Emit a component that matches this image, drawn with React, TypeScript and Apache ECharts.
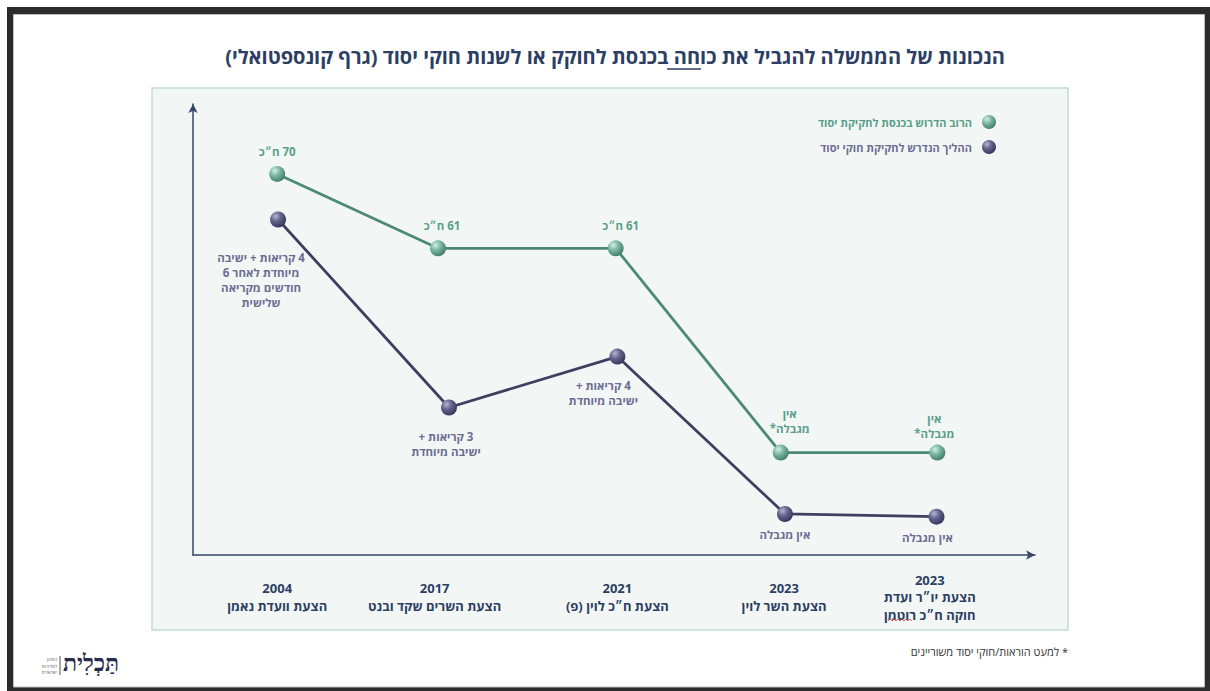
import React, { useEffect, useRef } from 'react';
import * as echarts from 'echarts';

// ---------- data ----------
const chartTitle = 'הנכונות של הממשלה להגביל את כוחה בכנסת לחוקק או לשנות חוקי יסוד (גרף קונספטואלי)';
const seriesNames = ['הרוב הדרוש בכנסת לחקיקת יסוד', 'ההליך הנדרש לחקיקת חוקי יסוד'];

// conceptual positions (0-100 scale on both axes)
const majorityX = [10.0, 29.1, 50.2, 69.8, 88.4];
const majorityY = [84.5, 68.0, 68.0, 22.7, 22.7];
const majorityLabels = ['70 ח״כ', '61 ח״כ', '61 ח״כ', 'אין\nמגבלה*', 'אין\nמגבלה*'];

const procedureX = [10.1, 30.4, 50.4, 70.3, 88.3];
const procedureY = [74.4, 32.7, 44.0, 9.1, 8.5];
const procedureLabels = [
  '4 קריאות + ישיבה\nמיוחדת לאחר 6\nחודשים מקריאה\nשלישית',
  '3 קריאות +\nישיבה מיוחדת',
  '4 קריאות +\nישיבה מיוחדת',
  'אין מגבלה',
  'אין מגבלה',
];

const proposalX = [10.0, 28.7, 50.4, 70.2, 87.5];
const proposalYears = ['2004', '2017', '2021', '2023', '2023'];
const proposalNames = [
  'הצעת וועדת נאמן',
  'הצעת השרים שקד ובנט',
  'הצעת ח״כ לוין (פ)',
  'הצעת השר לוין',
  'הצעת יו״ר ועדת\nחוקה ח״כ רוטמן',
];
const footnote = '* למעט הוראות/חוקי יסוד משוריינים';
const logoName = 'תַּכְלִית';
const logoSub = ['המכון', 'למדיניות', 'ישראלית'];

// ---------- styles ----------
const FONT = "'Open Sans', 'Liberation Sans', sans-serif";
const NAVY = '#2d3e63';
const AXIS = '#34466e';
const GREEN_TEXT = '#5b9e88';
const GREEN_LINE = '#4d8a75';
const PURPLE_TEXT = '#6d6d92';
const PURPLE_LINE = '#3f3f60';

const RLM = '\u200F';
const rtl = (s: string) => s.split('\n').map((l) => RLM + l + RLM).join('\n');

const majorityPlace = [
  { d: 7, dx: 0 },
  { d: 7, dx: 4 },
  { d: 7, dx: 5 },
  { d: 9, dx: 9 },
  { d: 4, dx: -3 },
];
const procedurePlace = [
  { d: 23, dx: -17 },
  { d: 13, dx: -3 },
  { d: 13, dx: -14 },
  { d: 5, dx: 0 },
  { d: 5, dx: -9 },
];

const greenBall = () =>
  new echarts.graphic.RadialGradient(0.35, 0.3, 0.75, [
    { offset: 0, color: '#d2efe5' },
    { offset: 0.45, color: '#78b49f' },
    { offset: 1, color: '#3f7a66' },
  ]);
const purpleBall = () =>
  new echarts.graphic.RadialGradient(0.35, 0.3, 0.75, [
    { offset: 0, color: '#b4b4d2' },
    { offset: 0.45, color: '#62628a' },
    { offset: 1, color: '#34345a' },
  ]);

function buildOption() {
  const majorityData = majorityX.map((x, i) => ({
    value: [x, majorityY[i]],
    label: {
      show: true,
      position: 'top',
      distance: majorityPlace[i].d,
      offset: [majorityPlace[i].dx, 0],
      formatter: rtl(majorityLabels[i]),
    },
  }));
  const procedureData = procedureX.map((x, i) => ({
    value: [x, procedureY[i]],
    label: {
      show: true,
      position: 'bottom',
      distance: procedurePlace[i].d,
      offset: [procedurePlace[i].dx, 0],
      formatter: rtl(procedureLabels[i]),
    },
  }));

  const nearestProposal = (v: number) => {
    let best = 0;
    proposalX.forEach((p, i) => {
      if (Math.abs(p - v) < Math.abs(proposalX[best] - v)) best = i;
    });
    return best;
  };

  // small red wavy spell-check underline (as in the reference screenshot)
  const squiggle: number[][] = [];
  for (let k = 0; k <= 12; k++) squiggle.push([888 + k * 2, k % 2 === 0 ? 621 : 619]);

  return {
    animation: false,
    graphic: [
      {
        type: 'rect',
        z: -10,
        shape: { x: 7, y: 7, width: 1203, height: 684 },
        style: { fill: '#2b2b2b' },
      },
      {
        type: 'rect',
        z: -9,
        shape: { x: 13.5, y: 14.5, width: 1191, height: 672.5 },
        style: { fill: '#ffffff', stroke: '#bdbdbd', lineWidth: 1 },
      },
      {
        type: 'rect',
        z: -8,
        shape: { x: 152, y: 88, width: 916, height: 542 },
        style: { fill: '#f2f7f6', stroke: '#c2dbd2', lineWidth: 1.5 },
      },
      {
        type: 'text',
        z: 5,
        x: 615,
        y: 56,
        style: {
          text: rtl(chartTitle),
          fill: NAVY,
          fontSize: 20,
          fontWeight: 'bold',
          fontFamily: FONT,
          align: 'center',
          verticalAlign: 'middle',
        },
      },
      {
        type: 'line',
        z: 5,
        shape: { x1: 667, y1: 69, x2: 701, y2: 69 },
        style: { stroke: NAVY, lineWidth: 1.5 },
      },
      {
        type: 'polyline',
        z: 5,
        shape: { points: squiggle },
        style: { stroke: '#e0403a', lineWidth: 0.8, fill: 'none' },
      },
      {
        type: 'text',
        z: 5,
        x: 1068,
        y: 651,
        style: {
          text: rtl(footnote),
          fill: '#333333',
          fontSize: 11,
          fontFamily: FONT,
          align: 'right',
          verticalAlign: 'middle',
        },
      },
      {
        type: 'text',
        z: 5,
        x: 63,
        y: 663,
        style: {
          text: logoName,
          fill: '#2b2b4b',
          fontSize: 23,
          fontWeight: 'bold',
          fontFamily: "'Liberation Serif', 'DejaVu Serif', serif",
          align: 'left',
          verticalAlign: 'middle',
        },
      },
      {
        type: 'line',
        z: 5,
        shape: { x1: 60, y1: 656, x2: 60, y2: 675 },
        style: { stroke: '#555', lineWidth: 1 },
      },
      ...logoSub.map((t, i) => ({
        type: 'text',
        z: 5,
        x: 57,
        y: 659 + i * 6.5,
        style: {
          text: t,
          fill: '#555',
          fontSize: 4.5,
          fontFamily: FONT,
          align: 'right',
          verticalAlign: 'middle',
        },
      })),
    ],
    legend: {
      orient: 'vertical',
      right: 209,
      top: 110,
      align: 'right',
      icon: 'circle',
      itemWidth: 14,
      itemHeight: 14,
      itemGap: 11,
      selectedMode: false,
      textStyle: {
        fontFamily: FONT,
        fontSize: 11,
        fontWeight: 'bold',
        padding: [0, 5, 0, 0],
      },
      data: [
        { name: seriesNames[0], textStyle: { color: GREEN_TEXT } },
        { name: seriesNames[1], textStyle: { color: PURPLE_TEXT } },
      ],
    },
    grid: {
      left: 193,
      right: 175,
      top: 104,
      bottom: 136,
      containLabel: false,
      outerBoundsMode: 'none',
    },
    xAxis: {
      type: 'value',
      min: 0,
      max: 100,
      splitLine: { show: false },
      axisTick: { show: false },
      axisLine: {
        show: true,
        lineStyle: { color: AXIS, width: 1.5 },
        symbol: ['none', 'arrow'],
        symbolSize: [7, 9],
      },
      axisLabel: {
        customValues: proposalX,
        showMinLabel: true,
        showMaxLabel: true,
        margin: 42,
        verticalAlign: 'middle',
        lineHeight: 17.5,
        color: NAVY,
        fontFamily: FONT,
        fontSize: 13,
        fontWeight: 'bold',
        formatter: (v: number) => {
          const i = nearestProposal(v);
          return rtl(proposalYears[i] + '\n' + proposalNames[i]);
        },
      },
    },
    yAxis: {
      type: 'value',
      min: 0,
      max: 100,
      splitLine: { show: false },
      axisTick: { show: false },
      axisLabel: { show: false },
      axisLine: {
        show: true,
        lineStyle: { color: AXIS, width: 1.5 },
        symbol: ['none', 'arrow'],
        symbolSize: [7, 9],
      },
    },
    series: [
      {
        name: seriesNames[0],
        type: 'line',
        data: majorityData,
        symbol: 'circle',
        symbolSize: 16,
        z: 3,
        lineStyle: { color: GREEN_LINE, width: 2.8 },
        itemStyle: { color: greenBall() },
        label: {
          color: GREEN_TEXT,
          fontFamily: FONT,
          fontSize: 11.5,
          fontWeight: 'bold',
          lineHeight: 15,
          align: 'center',
        },
        emphasis: { disabled: true },
      },
      {
        name: seriesNames[1],
        type: 'line',
        data: procedureData,
        symbol: 'circle',
        symbolSize: 16,
        z: 3,
        lineStyle: { color: PURPLE_LINE, width: 2.8 },
        itemStyle: { color: purpleBall() },
        label: {
          color: PURPLE_TEXT,
          fontFamily: FONT,
          fontSize: 11.5,
          fontWeight: 'bold',
          lineHeight: 15,
          align: 'center',
        },
        emphasis: { disabled: true },
      },
    ],
  };
}

export default function App() {
  const ref = useRef<HTMLDivElement>(null);
  useEffect(() => {
    if (!ref.current) return;
    const chart = echarts.init(ref.current, undefined, { renderer: 'svg' });
    chart.setOption(buildOption() as any);
    return () => chart.dispose();
  }, []);
  return (
    <div
      ref={ref}
      style={{ position: 'fixed', left: 0, top: 0, width: 1210, height: 691, background: '#ffffff' }}
    />
  );
}
